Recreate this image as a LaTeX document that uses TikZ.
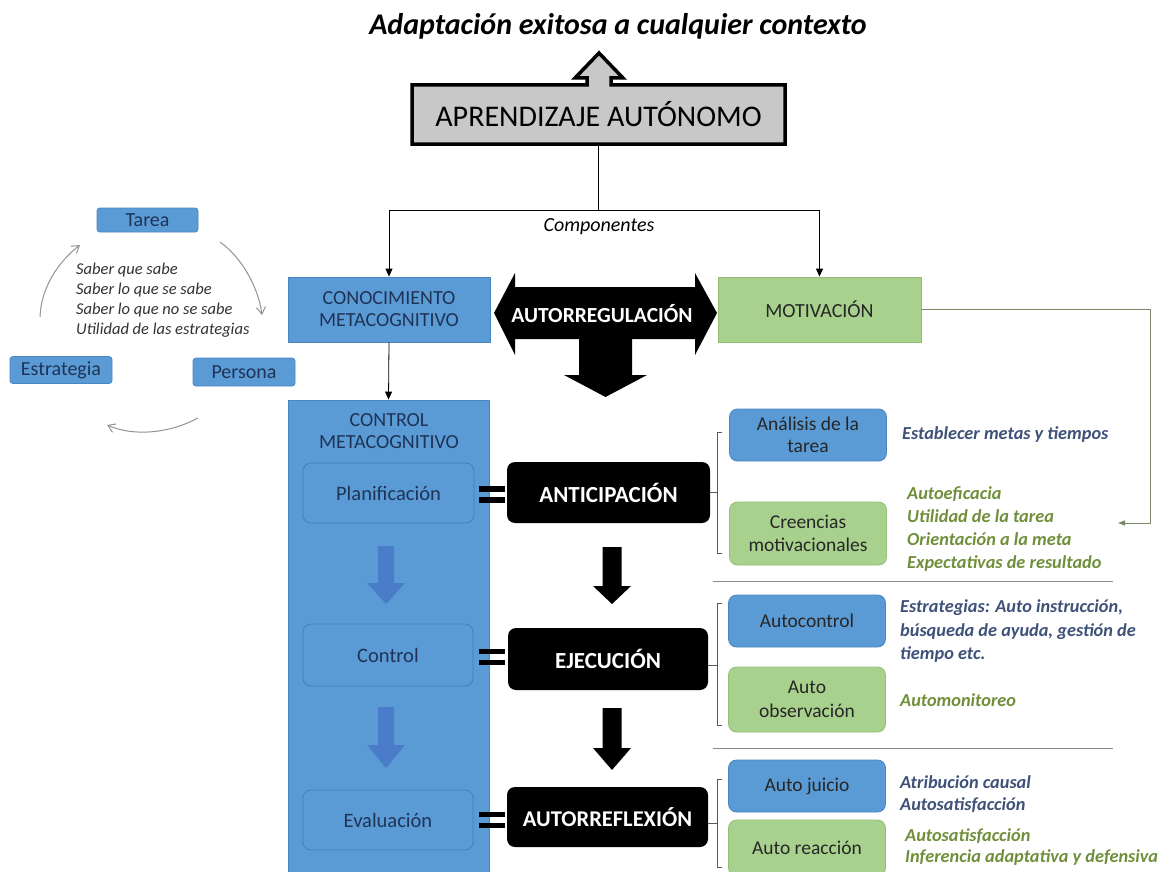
\documentclass[tikz,border=0pt]{standalone}
\usepackage{fontspec}
\setmainfont{Carlito}
\usetikzlibrary{arrows.meta,calc}
\definecolor{boxblue}{HTML}{5B9BD5}
\definecolor{boxblueline}{HTML}{4A86C2}
\definecolor{boxgreen}{HTML}{A9D18E}
\definecolor{boxgreenline}{HTML}{93BF75}
\definecolor{navytext}{HTML}{1F3356}
\definecolor{slatetext}{HTML}{3E5179}
\definecolor{olivetext}{HTML}{6F8F3A}
\definecolor{arrowblue}{HTML}{4A7CC9}
\definecolor{graybox}{HTML}{C8C8C8}
\definecolor{linkolive}{HTML}{7A8A66}
\newcommand\blockdown[7]{%
  \fill[#7] ({#1-#5},#2) -- ({#1+#5},#2) -- ({#1+#5},#3) -- ({#1+#6},#3) -- (#1,#4) -- ({#1-#6},#3) -- ({#1-#5},#3) -- cycle;}
\newcommand\eqbars[1]{%
  \fill[black] (479,{#1-8}) rectangle (505,{#1-2.5});
  \fill[black] (479,{#1+3}) rectangle (505,{#1+8.5});}
\begin{document}
\begin{tikzpicture}[x=1pt,y=-1pt,
  bluebox/.style={draw=boxblueline, fill=boxblue, text=navytext, align=center, inner sep=0pt, line width=0.8pt, font=\fontsize{20}{22}\selectfont},
  greenbox/.style={draw=boxgreenline, fill=boxgreen, text=black!85, align=center, inner sep=0pt, line width=0.8pt, font=\fontsize{20}{22}\selectfont},
  rbox/.style={rounded corners=8pt},
  blackbox/.style={fill=black, rounded corners=8pt, text=white, inner sep=0pt, font=\fontsize{23}{27}\selectfont\bfseries},
  conn/.style={draw=black, line width=0.8pt, -{Triangle[length=8pt,width=7pt]}},
  bluenote/.style={anchor=west, align=left, text=slatetext, inner sep=0pt, font=\fontsize{18.3}{23.5}\selectfont\bfseries\itshape},
  greennote/.style={anchor=west, align=left, text=olivetext, inner sep=0pt, font=\fontsize{18.3}{23}\selectfont\bfseries\itshape},
  cyc/.style={draw=gray!85, line width=1pt, -{Straight Barb[length=7pt,width=9pt]}},
  brk/.style={draw=black!65, line width=0.8pt},
  sep/.style={draw=black!45, line width=1pt}]
\useasboundingbox (0,0) rectangle (1161,872);
\fill[white] (0,0) rectangle (1161,872);

% title
\node[font=\fontsize{30}{34}\selectfont\bfseries\itshape] (title) at (618,26) {Adaptación exitosa a cualquier contexto};

% gray box with up arrow
\filldraw[fill=graybox, draw=black, line width=3.5pt, line join=miter]
  (412,144) -- (412,85) -- (587,85) -- (587,78) -- (575,78) -- (599,53) -- (623,78) -- (611,78) -- (611,85) -- (785,85) -- (785,144) -- cycle;
\node[minimum width=373pt, minimum height=59pt, inner sep=0pt, font=\fontsize{30}{34}\selectfont] (apr) at (598.5,114.5) {APRENDIZAJE AUTÓNOMO};

% components
\node[bluebox, minimum width=202pt, minimum height=65pt] (conoc) at (389,309.5) {CONOCIMIENTO\\METACOGNITIVO};
\node[greenbox, minimum width=203pt, minimum height=65pt] (motiv) at (819.5,309.5) {MOTIVACIÓN};
\coordinate (split) at (598.5,210);
\draw[line width=0.8pt] (apr.south) -- (split);
\draw[conn] (split) -| (conoc.north);
\draw[conn] (split) -| (motiv.north);
\node[font=\fontsize{20}{22}\selectfont\itshape] (comp) at (599,227) {Componentes};

% autorregulacion arrow
\fill[black] (494,313) -- (515,273) -- (515,287) -- (695,287) -- (695,273) -- (717,313) -- (695,355) -- (695,339) -- (632,339) -- (632,375) -- (647,375) -- (605.5,397) -- (564,375) -- (579,375) -- (579,339) -- (515,339) -- (515,355) -- cycle;
\node[text=white, font=\fontsize{21.5}{24}\selectfont\bfseries] (autor) at (602,314) {AUTORREGULACIÓN};

% control metacognitivo column
\node[bluebox, minimum width=201pt, minimum height=480pt] (ctrl) at (388.5,640) {};
\draw[conn] (conoc.south) -- (ctrl.north);
\node[text=navytext, align=center, font=\fontsize{20}{22}\selectfont] (ctrltxt) at (389,431) {CONTROL\\METACOGNITIVO};
\node[bluebox, rbox, minimum width=171pt, minimum height=60pt, draw=boxblueline!80!black!60!boxblue, font=\fontsize{20.5}{23}\selectfont] (plan) at (388.5,493) {Planificación};
\node[bluebox, rbox, minimum width=170pt, minimum height=62pt, draw=boxblueline!80!black!60!boxblue, font=\fontsize{20.5}{23}\selectfont] (cstep) at (388,655) {Control};
\node[bluebox, rbox, minimum width=170pt, minimum height=60pt, draw=boxblueline!80!black!60!boxblue, font=\fontsize{20.5}{23}\selectfont] (eval) at (388,820) {Evaluación};
\blockdown{386}{546}{583}{604}{8}{19}{arrowblue}
\blockdown{386}{707}{745}{768}{8}{19}{arrowblue}

% phases
\node[blackbox, minimum width=203pt, minimum height=61pt] (anti) at (608.5,492.5) {ANTICIPACIÓN};
\node[blackbox, minimum width=200pt, minimum height=62pt] (ejec) at (608,659) {EJECUCIÓN};
\node[blackbox, minimum width=201pt, minimum height=60pt, font=\fontsize{22.5}{27}\selectfont\bfseries] (refl) at (607.5,817) {AUTORREFLEXIÓN};
\eqbars{494}
\eqbars{656.5}
\eqbars{819.5}
\blockdown{612}{547}{586}{604}{9.5}{19}{black}
\blockdown{612}{708}{748}{770}{9.5}{19}{black}

% brackets
\draw[brk] (722,432) -- (717,432) -- (717,553) -- (722,553);
\draw[brk] (anti.east |- 0,492) -- (717,492);
\draw[brk] (722,603) -- (717,603) -- (717,725) -- (722,725);
\draw[brk] (ejec.east |- 0,665) -- (717,665);
\draw[brk] (722,779) -- (717,779) -- (717,867) -- (722,867);
\draw[brk] (refl.east |- 0,823) -- (717,823);

% separators
\draw[sep] (713,581) -- (1113,581);
\draw[sep] (713,748) -- (1113,748);

% right boxes
\node[bluebox, rbox, text=black!85, minimum width=157pt, minimum height=52pt, font=\fontsize{19.5}{22.5}\selectfont] (anal) at (808,435) {Análisis de la\\tarea};
\node[greenbox, rbox, minimum width=157pt, minimum height=63pt, font=\fontsize{19.5}{23.5}\selectfont] (creen) at (808,533.5) {Creencias\\motivacionales};
\node[bluebox, rbox, text=black!85, minimum width=157pt, minimum height=52pt, font=\fontsize{19.5}{22.5}\selectfont] (autoc) at (807,621) {Autocontrol};
\node[greenbox, rbox, minimum width=157pt, minimum height=65pt, font=\fontsize{19.5}{23.5}\selectfont] (autoo) at (807,699.5) {Auto\\observación};
\node[bluebox, rbox, text=black!85, minimum width=157pt, minimum height=52pt, font=\fontsize{19.5}{22.5}\selectfont] (autoj) at (807,786) {Auto juicio};
\node[greenbox, rbox, minimum width=157pt, minimum height=56pt, font=\fontsize{19.5}{22.5}\selectfont] (autor2) at (807,848) {Auto reacción};

% right notes
\node[bluenote] (n1) at (902,435) {Establecer metas y tiempos};
\node[greennote] (n2) at (907,529) {Autoeficacia\\Utilidad de la tarea\\Orientación a la meta\\Expectativas de resultado};
\node[bluenote] (n3) at (900,631.5) {Estrategias: Auto instrucción,\\búsqueda de ayuda, gestión de\\tiempo etc.};
\node[greennote] (n4) at (900,700) {Automonitoreo};
\node[bluenote, font=\fontsize{18.3}{21.5}\selectfont\bfseries\itshape] (n5) at (900,794) {Atribución causal\\Autosatisfacción};
\node[greennote, font=\fontsize{18.3}{21.5}\selectfont\bfseries\itshape] (n6) at (905,847) {Autosatisfacción\\Inferencia adaptativa y defensiva};

% motivation link
\coordinate (mc) at (1150,309.5);
\coordinate (mend) at (1118,523);
\draw[draw=linkolive, line width=1pt, -{Triangle[length=7pt,width=5pt]}] (motiv.east) -- (mc) |- (mend);

% left cycle
\node[bluebox, rounded corners=3pt, minimum width=101pt, minimum height=24pt, font=\fontsize{20}{22}\selectfont] (tarea) at (147.5,220) {Tarea};
\node[bluebox, rounded corners=3pt, minimum width=102pt, minimum height=27pt, font=\fontsize{20}{22}\selectfont] (estrat) at (61,370) {Estrategia};
\node[bluebox, rounded corners=3pt, minimum width=102pt, minimum height=28pt, font=\fontsize{20}{22}\selectfont] (persona) at (244,372) {Persona};
\node[anchor=west, align=left, inner sep=0pt, text=black!80, font=\fontsize{16.5}{20}\selectfont\itshape] (saber) at (76,300) {Saber que sabe\\Saber lo que se sabe\\Saber lo que no se sabe\\Utilidad de las estrategias};
\coordinate (c1s) at (40,317);
\coordinate (c1e) at (80,245);
\coordinate (c2s) at (220,242);
\coordinate (c2e) at (262,315);
\coordinate (c3s) at (198,418);
\coordinate (c3e) at (107,425);
\draw[cyc] (c1s) .. controls (41,288) and (58,262) .. (c1e);
\draw[cyc] (c2s) .. controls (240,256) and (258,285) .. (c2e);
\draw[cyc] (c3s) .. controls (170,433) and (135,437) .. (c3e);
\end{tikzpicture}
\end{document}
